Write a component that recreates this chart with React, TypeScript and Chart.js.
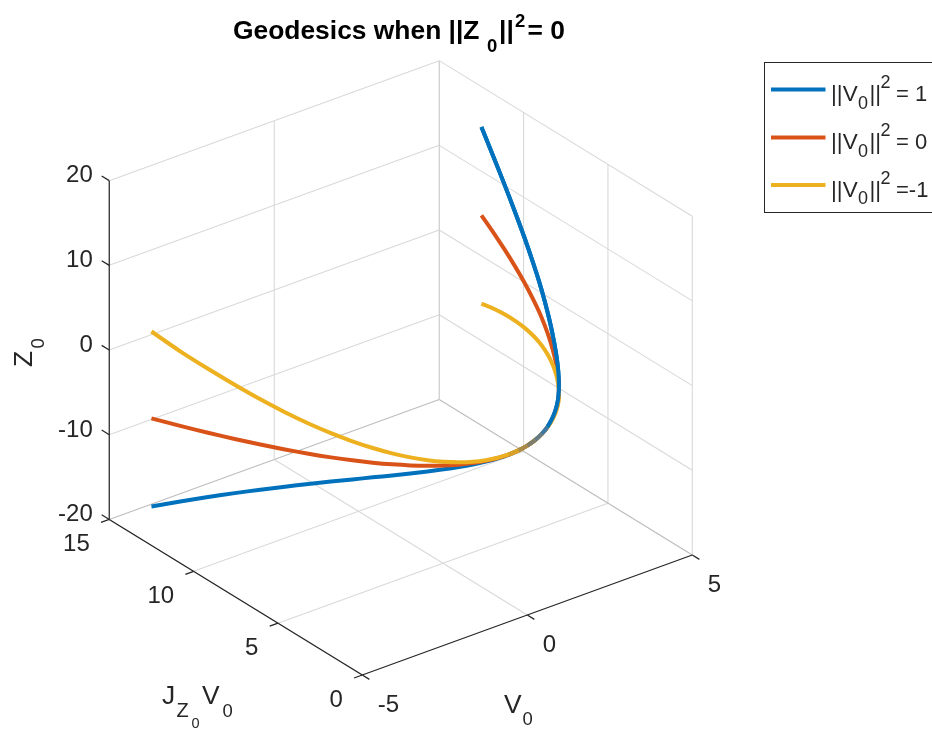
import React, { useEffect, useRef } from "react";
import { Chart, registerables } from "chart.js";

Chart.register(...registerables);

const vTicks = [-5, 0, 5];
const jTicks = [0, 5, 10, 15];
const zTicks = [-20, -10, 0, 10, 20];

const vValues = [
  -5, -4.75, -4.5, -4.25, -4, -3.75, -3.5, -3.25, -3, -2.75, -2.5, -2.25, -2, -1.75, -1.5, -1.25, -1, -0.75, -0.5, -0.25,
  0, 0.25, 0.5, 0.75, 1, 1.25, 1.5, 1.75, 2, 2.25, 2.5, 2.75, 3, 3.25, 3.5, 3.75, 4, 4.25, 4.5, 4.75, 5,
];
const jValues = [
  12.5, 11.281, 10.125, 9.031, 8, 7.031, 6.125, 5.281, 4.5, 3.781, 3.125, 2.531, 2, 1.531, 1.125, 0.781, 0.5, 0.281, 0.125, 0.031,
  0, 0.031, 0.125, 0.281, 0.5, 0.781, 1.125, 1.55, 2.05, 2.6, 3.205, 3.86, 4.56, 5.32, 6.14, 7.04, 8, 9.031, 10.125, 11.281, 12.5,
];
const zPositive = [
  -15.417, -13.681, -12.094, -10.647, -9.333, -8.145, -7.073, -6.111, -5.25, -4.483, -3.802, -3.199, -2.667, -2.197, -1.781, -1.413, -1.083, -0.785, -0.51, -0.251,
  0, 0.251, 0.51, 0.785, 1.083, 1.413, 1.781, 2.197, 2.62, 3.12, 3.66, 4.31, 5.05, 5.9, 6.86, 7.94, 9.133, 10.447, 11.894, 13.481, 15.217,
];
const zNull = [
  -5, -4.75, -4.5, -4.25, -4, -3.75, -3.5, -3.25, -3, -2.75, -2.5, -2.25, -2, -1.75, -1.5, -1.25, -1, -0.75, -0.5, -0.25,
  0, 0.25, 0.5, 0.75, 1, 1.25, 1.5, 1.75, 1.97, 2.18, 2.38, 2.6, 2.82, 3.05, 3.3, 3.55, 3.8, 4.05, 4.3, 4.55, 4.8,
];
const zNegative = [
  5.25, 4.05, 3.05, 2.147, 1.333, 0.645, 0.073, -0.389, -0.75, -1.017, -1.198, -1.301, -1.333, -1.303, -1.219, -1.087, -0.917, -0.715, -0.49, -0.249,
  0, 0.249, 0.49, 0.715, 0.917, 1.087, 1.219, 1.303, 1.3, 1.22, 1.07, 0.86, 0.56, 0.19, -0.27, -0.845, -1.533, -2.347, -3.294, -4.381, -5.617,
];

const BLUE = "#0072BD";
const RED = "#D95319";
const YELLOW = "#EDB120";
const INK = "#262626";
const SANS = '"Liberation Sans", Arial, sans-serif';

const legendEntries = [
  { color: BLUE, y: 89.5, tail: "= 1", supX: 880.5 },
  { color: RED, y: 137.5, tail: "= 0", supX: 880.5 },
  { color: YELLOW, y: 185, tail: "=-1", supX: 880.5 },
];

// 3D view: data coordinates to the flat plane of the chart's two scales
function project(v: number, j: number, z: number) {
  return {
    x: 362.3 + 33 * (v + 5) - 16.87 * j,
    y: 675 - 12 * (v + 5) - 10.37 * j - 8.47 * (z + 20),
  };
}

function seg3(a: number[], b: number[], color: string, order: number, width = 1) {
  return {
    data: [project(a[0], a[1], a[2]), project(b[0], b[1], b[2])],
    borderColor: color,
    borderWidth: width,
    pointRadius: 0,
    order,
    borderCapStyle: "butt",
  };
}

function curve(zs: number[], color: string, order: number) {
  return {
    data: vValues.map((v, i) => project(v, jValues[i], zs[i])),
    borderColor: color,
    borderWidth: 4,
    pointRadius: 0,
    order,
    tension: 0.3,
    borderJoinStyle: "round",
  };
}

function buildDatasets() {
  const out: any[] = [];
  const vMin = vTicks[0], vMax = vTicks[vTicks.length - 1];
  const jMin = jTicks[0], jMax = jTicks[jTicks.length - 1];
  const zMin = zTicks[0], zMax = zTicks[zTicks.length - 1];
  const GRID = "#d9d9d9";
  const AXW = 1.25;
  // floor
  vTicks.slice(0, -1).forEach((v) => out.push(seg3([v, jMin, zMin], [v, jMax, zMin], GRID, 20, 1.1)));
  jTicks.slice(1, -1).forEach((j) => out.push(seg3([vMin, j, zMin], [vMax, j, zMin], GRID, 20, 1.1)));
  // back wall at jMax
  vTicks.slice(1, -1).forEach((v) => out.push(seg3([v, jMax, zMin], [v, jMax, zMax], GRID, 20, 1.1)));
  zTicks.slice(1).forEach((z) => out.push(seg3([vMin, jMax, z], [vMax, jMax, z], GRID, 20, 1.1)));
  // back wall at vMax
  jTicks.slice(0, -1).forEach((j) => out.push(seg3([vMax, j, zMin], [vMax, j, zMax], GRID, 20, 1.1)));
  zTicks.slice(1).forEach((z) => out.push(seg3([vMax, jMin, z], [vMax, jMax, z], GRID, 20, 1.1)));
  // darker back edges
  out.push(seg3([vMin, jMax, zMin], [vMax, jMax, zMin], "#bdbdbd", 19, 1.2));
  out.push(seg3([vMax, jMin, zMin], [vMax, jMax, zMin], "#bdbdbd", 19, 1.2));
  out.push(seg3([vMax, jMax, zMin], [vMax, jMax, zMax], "#cccccc", 19, 1.2));
  // axes
  out.push(seg3([vMin, jMin, zMin], [vMax, jMin, zMin], INK, 10, AXW));
  out.push(seg3([vMin, jMin, zMin], [vMin, jMax, zMin], INK, 10, AXW));
  out.push(seg3([vMin, jMax, zMin], [vMin, jMax, zMax], INK, 10, AXW));
  // tick marks
  vTicks.forEach((v) => out.push(seg3([v, jMin, zMin], [v, jMin - 0.42, zMin], INK, 10, AXW)));
  jTicks.forEach((j) => out.push(seg3([vMin, j, zMin], [vMin - 0.25, j, zMin], INK, 10, AXW)));
  zTicks.forEach((z) => out.push(seg3([vMin, jMax, z], [vMin, jMax + 0.45, z], INK, 10, AXW)));
  // curves: yellow ends up on top on the left, blue on the right
  out.push(curve(zPositive, BLUE, 5));
  out.push(curve(zNull, RED, 4));
  out.push(curve(zNegative, YELLOW, 3));
  const start = vValues.indexOf(-0.5);
  const blend = ["#d8a228", "#a98c4a", "#7d7f6c", "#637c88", "#3a78a8"];
  out.push({
    data: vValues.slice(start).map((v, i) => project(v, jValues[start + i], zPositive[start + i])),
    borderColor: BLUE,
    borderWidth: 4,
    pointRadius: 0,
    order: 2,
    tension: 0.3,
    segment: { borderColor: (ctx: any) => blend[ctx.p0DataIndex] ?? BLUE },
  });
  return out;
}

type Run = { t: string; x: number; y: number; size: number; bold?: boolean; color?: string; rot?: boolean };

const titleRuns: Run[] = [
  { t: "Geodesics when ||Z", x: 233, y: 39, size: 26.4, bold: true, color: "#000" },
  { t: "0", x: 487, y: 52, size: 18.5, bold: true, color: "#000" },
  { t: "||", x: 499, y: 39, size: 26.4, bold: true, color: "#000" },
  { t: "2", x: 515, y: 26.5, size: 18.5, bold: true, color: "#000" },
  { t: "= 0", x: 527.5, y: 39, size: 26.4, bold: true, color: "#000" },
];
const axisRuns: Run[] = [
  { t: "V", x: 504, y: 713, size: 26.4 },
  { t: "0", x: 522.5, y: 725, size: 18.5 },
  { t: "J", x: 162, y: 704, size: 26.4 },
  { t: "Z", x: 176.5, y: 716.7, size: 20 },
  { t: "0", x: 191.5, y: 728, size: 14.5 },
  { t: "V", x: 202, y: 704, size: 26.4 },
  { t: "0", x: 222.5, y: 717, size: 18.5 },
  { t: "Z", x: 32, y: 367, size: 26.4, rot: true },
  { t: "0", x: 44, y: 348.5, size: 18.5, rot: true },
];

const overlay = {
  id: "overlay",
  afterDraw(chart: any) {
    const ctx = chart.ctx;
    const draw = (r: Run) => {
      ctx.save();
      ctx.font = `${r.bold ? "bold " : ""}${r.size}px ${SANS}`;
      ctx.fillStyle = r.color || INK;
      ctx.textAlign = "left";
      ctx.textBaseline = "alphabetic";
      ctx.translate(r.x, r.y);
      if (r.rot) ctx.rotate(-Math.PI / 2);
      ctx.fillText(r.t, 0, 0);
      ctx.restore();
    };
    titleRuns.forEach(draw);
    axisRuns.forEach(draw);

    const tick = (label: string, x: number, y: number, align: string) => {
      ctx.save();
      ctx.font = `24px ${SANS}`;
      ctx.fillStyle = INK;
      ctx.textAlign = align;
      ctx.textBaseline = "alphabetic";
      ctx.fillText(label, x, y);
      ctx.restore();
    };
    const jMax = jTicks[jTicks.length - 1], vMin = vTicks[0], zMin = zTicks[0];
    zTicks.forEach((z) => {
      const p = project(vMin, jMax, z);
      tick(String(z), p.x - 16.5, p.y + 1.8, "right");
    });
    jTicks.forEach((j) => {
      const p = project(vMin, j, zMin);
      tick(String(j), p.x - 19.5, p.y + 32, "right");
    });
    vTicks.forEach((v) => {
      const p = project(v, 0, zMin);
      tick(String(v), p.x + 15.5, p.y + 36.5, "left");
    });

    // legend
    ctx.save();
    ctx.fillStyle = "#fff";
    ctx.fillRect(764.5, 62.5, 168, 150);
    ctx.strokeStyle = INK;
    ctx.lineWidth = 1;
    ctx.strokeRect(764.5, 62.5, 180, 150);
    legendEntries.forEach((e) => {
      ctx.strokeStyle = e.color;
      ctx.lineWidth = 4;
      ctx.beginPath();
      ctx.moveTo(771, e.y);
      ctx.lineTo(825.5, e.y);
      ctx.stroke();
      const d = e.y + 11.5;
      draw({ t: "||V", x: 831, y: d, size: 22.5 });
      draw({ t: "0", x: 858, y: d + 7.5, size: 18 });
      draw({ t: "||", x: 869.5, y: d, size: 22.5 });
      draw({ t: "2", x: e.supX, y: d - 13, size: 18 });
      draw({ t: e.tail, x: 896, y: d, size: 22 });
    });
    ctx.restore();
  },
};

export default function App() {
  const ref = useRef<HTMLCanvasElement>(null);
  useEffect(() => {
    const chart = new Chart(ref.current as HTMLCanvasElement, {
      type: "line",
      data: { datasets: buildDatasets() },
      plugins: [overlay],
      options: {
        animation: false,
        responsive: false,
        parsing: false,
        normalized: false,
        layout: { padding: 0 },
        plugins: { legend: { display: false }, title: { display: false }, tooltip: { enabled: false } },
        events: [],
        scales: {
          x: { type: "linear", display: false, min: 0, max: 932 },
          y: { type: "linear", display: false, min: 0, max: 729, reverse: true },
        },
      },
    } as any);
    return () => chart.destroy();
  }, []);
  return (
    <div style={{ position: "absolute", left: 0, top: 0, width: 932, height: 729, background: "#fff" }}>
      <canvas ref={ref} width={932} height={729} style={{ display: "block" }} />
    </div>
  );
}
